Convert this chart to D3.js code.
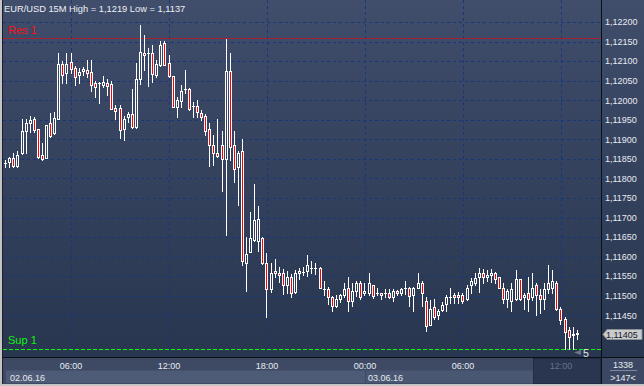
<!DOCTYPE html>
<html><head><meta charset="utf-8">
<script src="https://cdn.jsdelivr.net/npm/d3@7"></script>
<style>
html,body{margin:0;padding:0;background:#c4c4c4;overflow:hidden}
svg{display:block}
text{font-family:"Liberation Sans",Arial,sans-serif}
</style>
</head><body>
<svg id="chart" width="644" height="386"></svg>
<script>
// ---------- DATA ----------
const symbolLabel = "EUR/USD 15M";
const highLabel = "1,1219";
const lowLabel = "1,1137";
const startTime = "2016-06-02T01:45:00Z"; // first visible 15M bar
const open  = [1.11834,1.11839,1.11843,1.11853,1.11833,1.11864,1.11920,1.11941,1.11953,1.11926,1.11859,1.11852,1.11941,1.11915,1.11953,1.12093,1.12070,1.12098,1.12082,1.12065,1.12074,1.12077,1.12072,1.12045,1.12045,1.12040,1.12043,1.12041,1.11980,1.11980,1.11927,1.11958,1.11965,1.11931,1.12055,1.12120,1.12120,1.12120,1.12065,1.12091,1.12146,1.12096,1.12062,1.11983,1.11999,1.12029,1.12029,1.11985,1.11985,1.11968,1.11960,1.11926,1.11885,1.11864,1.11885,1.11849,1.12075,1.11885,1.11828,1.11869,1.11583,1.11613,1.11642,1.11641,1.11648,1.11584,1.11516,1.11562,1.11557,1.11557,1.11527,1.11547,1.11509,1.11557,1.11560,1.11562,1.11572,1.11572,1.11572,1.11516,1.11516,1.11496,1.11475,1.11491,1.11501,1.11521,1.11486,1.11511,1.11533,1.11506,1.11506,1.11527,1.11508,1.11506,1.11506,1.11506,1.11496,1.11511,1.11506,1.11521,1.11521,1.11501,1.11521,1.11532,1.11487,1.11426,1.11470,1.11450,1.11463,1.11480,1.11497,1.11501,1.11501,1.11501,1.11491,1.11527,1.11532,1.11547,1.11557,1.11547,1.11552,1.11557,1.11547,1.11521,1.11492,1.11486,1.11491,1.11542,1.11496,1.11506,1.11496,1.11527,1.11501,1.11491,1.11516,1.11521,1.11532,1.11465,1.11441,1.11412,1.11399,1.11402];
const high  = [1.11837,1.11848,1.11855,1.11864,1.11869,1.11953,1.11953,1.11960,1.11956,1.11927,1.11890,1.11937,1.11968,1.11970,1.12120,1.12100,1.12120,1.12120,1.12087,1.12082,1.12086,1.12103,1.12103,1.12048,1.12046,1.12062,1.12055,1.12048,1.11987,1.11988,1.11960,1.11970,1.12029,1.12096,1.12192,1.12168,1.12134,1.12140,1.12103,1.12151,1.12152,1.12115,1.12063,1.12009,1.12038,1.12077,1.12030,1.11995,1.12000,1.11975,1.11965,1.11941,1.11910,1.11951,1.11920,1.12156,1.12120,1.11920,1.11869,1.11900,1.11649,1.11714,1.11787,1.11729,1.11649,1.11610,1.11584,1.11593,1.11574,1.11569,1.11562,1.11555,1.11566,1.11571,1.11574,1.11603,1.11589,1.11584,1.11573,1.11538,1.11523,1.11499,1.11501,1.11504,1.11533,1.11549,1.11533,1.11537,1.11538,1.11532,1.11557,1.11528,1.11520,1.11507,1.11516,1.11516,1.11518,1.11514,1.11521,1.11537,1.11522,1.11522,1.11559,1.11537,1.11497,1.11489,1.11491,1.11467,1.11484,1.11501,1.11521,1.11508,1.11509,1.11506,1.11527,1.11545,1.11557,1.11571,1.11569,1.11566,1.11569,1.11561,1.11548,1.11532,1.11516,1.11532,1.11567,1.11543,1.11506,1.11547,1.11559,1.11532,1.11516,1.11532,1.11578,1.11567,1.11537,1.11470,1.11445,1.11419,1.11419,1.11413];
const low   = [1.11831,1.11828,1.11828,1.11828,1.11828,1.11862,1.11864,1.11919,1.11919,1.11853,1.11848,1.11851,1.11907,1.11913,1.11952,1.12043,1.12045,1.12069,1.12040,1.12043,1.12065,1.12059,1.12024,1.12009,1.11994,1.12035,1.12014,1.11977,1.11953,1.11903,1.11898,1.11944,1.11930,1.11930,1.12041,1.12077,1.12036,1.12047,1.12060,1.12087,1.12089,1.12060,1.11982,1.11958,1.11982,1.12019,1.11976,1.11958,1.11958,1.11949,1.11911,1.11833,1.11835,1.11854,1.11769,1.11656,1.11847,1.11791,1.11733,1.11578,1.11511,1.11612,1.11639,1.11615,1.11581,1.11446,1.11509,1.11547,1.11535,1.11504,1.11506,1.11497,1.11508,1.11543,1.11554,1.11550,1.11559,1.11555,1.11520,1.11502,1.11479,1.11460,1.11470,1.11484,1.11496,1.11460,1.11475,1.11499,1.11491,1.11502,1.11501,1.11494,1.11501,1.11491,1.11496,1.11494,1.11486,1.11502,1.11501,1.11504,1.11475,1.11460,1.11520,1.11475,1.11410,1.11425,1.11441,1.11441,1.11461,1.11461,1.11482,1.11482,1.11481,1.11482,1.11489,1.11506,1.11527,1.11509,1.11533,1.11537,1.11535,1.11533,1.11520,1.11482,1.11470,1.11460,1.11489,1.11489,1.11465,1.11460,1.11489,1.11450,1.11455,1.11465,1.11506,1.11506,1.11463,1.11428,1.11364,1.11364,1.11364,1.11390];
const close = [1.11834,1.11840,1.11852,1.11833,1.11859,1.11920,1.11942,1.11949,1.11924,1.11854,1.11849,1.11936,1.11908,1.11954,1.12093,1.12065,1.12093,1.12081,1.12060,1.12072,1.12079,1.12070,1.12040,1.12035,1.12045,1.12047,1.12036,1.11978,1.11973,1.11924,1.11953,1.11965,1.11931,1.12055,1.12123,1.12115,1.12120,1.12067,1.12093,1.12140,1.12091,1.12062,1.11983,1.12000,1.12024,1.12029,1.11978,1.11985,1.11970,1.11958,1.11920,1.11885,1.11864,1.11857,1.11849,1.12075,1.11880,1.11823,1.11864,1.11588,1.11608,1.11648,1.11694,1.11697,1.11583,1.11516,1.11557,1.11557,1.11552,1.11527,1.11549,1.11506,1.11557,1.11562,1.11560,1.11578,1.11572,1.11572,1.11521,1.11516,1.11496,1.11475,1.11491,1.11501,1.11516,1.11486,1.11513,1.11533,1.11496,1.11511,1.11532,1.11499,1.11508,1.11501,1.11506,1.11496,1.11513,1.11506,1.11516,1.11521,1.11499,1.11521,1.11532,1.11508,1.11422,1.11467,1.11446,1.11462,1.11477,1.11497,1.11497,1.11496,1.11496,1.11486,1.11521,1.11537,1.11545,1.11557,1.11547,1.11554,1.11559,1.11542,1.11521,1.11491,1.11511,1.11516,1.11542,1.11491,1.11501,1.11491,1.11521,1.11501,1.11491,1.11516,1.11532,1.11537,1.11466,1.11438,1.11407,1.11395,1.11401,1.11405];
const priceTicks = [1.1220,1.1215,1.1210,1.1205,1.1200,1.1195,1.1190,1.1185,1.1180,1.1175,1.1170,1.1165,1.1160,1.1155,1.1150,1.1145];
const resLevel = 1.12160, resLabel = "Res 1";
const supLevel = 1.11364, supLabel = "Sup 1";
const lastPrice = 1.11405;
const dateLabels = ["02.06.16", "03.06.16"];
const barsCount = "1338", shiftLabel = ">147<", countdown = "5";

// ---------- SETUP ----------
const W = 644, H = 386;
const plot = {x0: 3, x1: 601, y0: 0, y1: 357};
const svg = d3.select("#chart");
const t0 = new Date(startTime);
const n = open.length;
const times = d3.range(n).map(i => d3.utcMinute.offset(t0, 15 * i));
const x = d3.scaleUtc().domain([times[0], times[n - 1]]).range([1.6, 577.3]);
const y = d3.scaleLinear().domain([1.1135, 1.1220]).range([354.4, 22]);
const fmt = v => d3.format(".5f")(v).replace(".", ",");

const defs = svg.append("defs");
const grad = defs.append("linearGradient").attr("id", "bg").attr("x1", 0).attr("y1", 0).attr("x2", 0).attr("y2", 1);
grad.append("stop").attr("offset", "0%").attr("stop-color", "#404d6b");
grad.append("stop").attr("offset", "100%").attr("stop-color", "#29364f");
defs.append("clipPath").attr("id", "clip").append("rect")
  .attr("x", plot.x0).attr("y", plot.y0).attr("width", plot.x1 - plot.x0).attr("height", plot.y1 - plot.y0);

// window + panels
svg.append("rect").attr("width", W).attr("height", H).attr("fill", "#c4c4c4");
svg.append("rect").attr("x", 2).attr("y", 0).attr("width", W - 2).attr("height", 384).attr("fill", "#1c2436");
svg.append("rect").attr("x", plot.x0).attr("y", 0).attr("width", W - plot.x0).attr("height", plot.y1).attr("fill", "url(#bg)");
svg.append("rect").attr("x", plot.x0).attr("y", 358).attr("width", 598).attr("height", 26).attr("fill", "#3e4a64");
svg.append("rect").attr("x", 602).attr("y", 358).attr("width", 42).attr("height", 26).attr("fill", "#3c4863");

// ---------- GRID ----------
const gridColor = "#16377a";
const timeTicks = x.ticks(d3.utcHour.every(6)).filter(t => x(t) > plot.x0 && x(t) < plot.x1);
const grid = svg.append("g");
grid.selectAll("line.h").data(priceTicks).join("line")
  .attr("x1", plot.x0).attr("x2", plot.x1)
  .attr("y1", d => Math.round(y(d)) + 0.5).attr("y2", d => Math.round(y(d)) + 0.5)
  .attr("stroke", gridColor).attr("stroke-dasharray", "3,3");
grid.selectAll("line.v").data(timeTicks).join("line")
  .attr("x1", d => Math.round(x(d)) + 0.5).attr("x2", d => Math.round(x(d)) + 0.5)
  .attr("y1", plot.y0).attr("y2", plot.y1)
  .attr("stroke", gridColor).attr("stroke-dasharray", "3,3");

// ---------- LEVELS ----------
svg.append("line").attr("x1", plot.x0).attr("x2", plot.x1)
  .attr("y1", Math.round(y(resLevel)) + 0.5).attr("y2", Math.round(y(resLevel)) + 0.5)
  .attr("stroke", "#c81420").attr("stroke-dasharray", "3,1");
svg.append("line").attr("x1", plot.x0).attr("x2", plot.x1)
  .attr("y1", Math.round(y(supLevel)) + 0.5).attr("y2", Math.round(y(supLevel)) + 0.5)
  .attr("stroke", "#00ff00").attr("stroke-dasharray", "4,2");
svg.append("text").attr("x", 8).attr("y", Math.round(y(resLevel)) - 4)
  .attr("fill", "#ff1010").attr("font-size", "11px").text(resLabel);
svg.append("text").attr("x", 8).attr("y", Math.round(y(supLevel)) - 5)
  .attr("fill", "#10f010").attr("font-size", "11px").text(supLabel);

// ---------- CANDLES ----------
const candles = svg.append("g").attr("clip-path", "url(#clip)");
d3.range(n).forEach(i => {
  const c = Math.floor(x(times[i]));
  const yo = y(open[i]), yc = y(close[i]);
  const yh = Math.round(y(high[i])), yl = Math.round(y(low[i]));
  const top = Math.round(Math.min(yo, yc)), bot = Math.round(Math.max(yo, yc));
  const bear = close[i] < open[i];
  const g = candles.append("g");
  if (bot - top < 1) {
    g.append("line").attr("x1", c + 0.5).attr("x2", c + 0.5).attr("y1", yh).attr("y2", yl + 1)
      .attr("stroke", "#fff");
    g.append("line").attr("x1", c - 1).attr("x2", c + 2).attr("y1", top + 0.5).attr("y2", top + 0.5)
      .attr("stroke", "#fff");
  } else {
    if (yh < top) g.append("line").attr("x1", c + 0.5).attr("x2", c + 0.5).attr("y1", yh).attr("y2", top).attr("stroke", "#fff");
    if (yl > bot) g.append("line").attr("x1", c + 0.5).attr("x2", c + 0.5).attr("y1", bot + 1).attr("y2", yl + 1).attr("stroke", "#fff");
    g.append("rect").attr("x", c - 0.5).attr("y", top + 0.5).attr("width", 2).attr("height", bot - top)
      .attr("fill", bear ? "#ff0000" : "none").attr("stroke", "#fff");
  }
});

// ---------- FRAME LINES ----------
svg.append("line").attr("x1", 2).attr("x2", W).attr("y1", 357.5).attr("y2", 357.5).attr("stroke", "#0c0f18");
svg.append("line").attr("x1", 601.5).attr("x2", 601.5).attr("y1", 0).attr("y2", 384).attr("stroke", "#0c0f18");
svg.append("line").attr("x1", 2.5).attr("x2", 2.5).attr("y1", 0).attr("y2", 384).attr("stroke", "#1a2030");

// ---------- PRICE AXIS ----------
const yAxis = svg.append("g");
yAxis.selectAll("text").data(priceTicks).join("text")
  .attr("x", 605).attr("y", d => y(d) + 3.3)
  .attr("fill", "#e6eaf0").attr("font-size", "9px").text(fmt);
const yc = Math.round(y(lastPrice)) + 1.5;
yAxis.append("path")
  .attr("d", `M603,${yc} L607,${yc - 5} L642,${yc - 5} L642,${yc + 5} L607,${yc + 5} Z`)
  .attr("fill", "#c9cbce").attr("stroke", "#8b8f96");
yAxis.append("text").attr("x", 606).attr("y", yc + 3.3).attr("fill", "#1a1a1a").attr("font-size", "9px").text(fmt(lastPrice));

// countdown marker
svg.append("path").attr("d", "M574,352.5 L581,350 L581,355 Z").attr("fill", "#6f7686");
svg.append("text").attr("x", 583).attr("y", 356.5).attr("fill", "#e6e9ef").attr("font-size", "10.5px").text(countdown);

// ---------- TIME AXIS ----------
const lastTick = timeTicks[timeTicks.length - 1];
const dayStarts = [plot.x0 + 3, Math.round(x(d3.utcDay.ceil(times[0]))) ];
const hiX = 533;
svg.append("rect").attr("x", dayStarts[0]).attr("y", 370.5).attr("width", dayStarts[1] - dayStarts[0]).attr("height", 12.5).attr("fill", "#4e5b76");
svg.append("rect").attr("x", dayStarts[1] + 1).attr("y", 370.5).attr("width", hiX - dayStarts[1] - 1).attr("height", 12.5).attr("fill", "#4a5772");
svg.selectAll("text.date").data(dateLabels).join("text")
  .attr("x", (d, i) => dayStarts[i] + (i === 0 ? 4 : 3)).attr("y", 380.5)
  .attr("fill", "#e6eaf0").attr("font-size", "9px").text(d => d);
svg.append("rect").attr("x", hiX + 0.5).attr("y", 358.5).attr("width", 601 - hiX - 1).attr("height", 25)
  .attr("fill", "#2a3550").attr("stroke", "#222b40");
svg.selectAll("text.time").data(timeTicks).join("text")
  .attr("x", d => x(d)).attr("y", 368.5).attr("text-anchor", "middle")
  .attr("fill", d => d === lastTick ? "#66728a" : "#e6eaf0").attr("font-size", "9px")
  .text(d => d3.utcFormat("%H:%M")(d));

// ---------- TITLE ----------
svg.append("text").attr("x", 4).attr("y", 11.5).attr("fill", "#eef1f5").attr("font-size", "9.3px")
  .text(`${symbolLabel} High = ${highLabel} Low = ${lowLabel}`);

// ---------- CORNER BOX ----------
svg.append("text").attr("x", 623).attr("y", 367.5).attr("text-anchor", "middle").attr("fill", "#e6eaf0").attr("font-size", "9px").text(barsCount);
svg.append("line").attr("x1", 610).attr("x2", 637).attr("y1", 370.5).attr("y2", 370.5).attr("stroke", "#7c879c");
svg.append("text").attr("x", 623).attr("y", 380.5).attr("text-anchor", "middle").attr("fill", "#e6eaf0").attr("font-size", "9px").text(shiftLabel);
</script>
</body></html>
